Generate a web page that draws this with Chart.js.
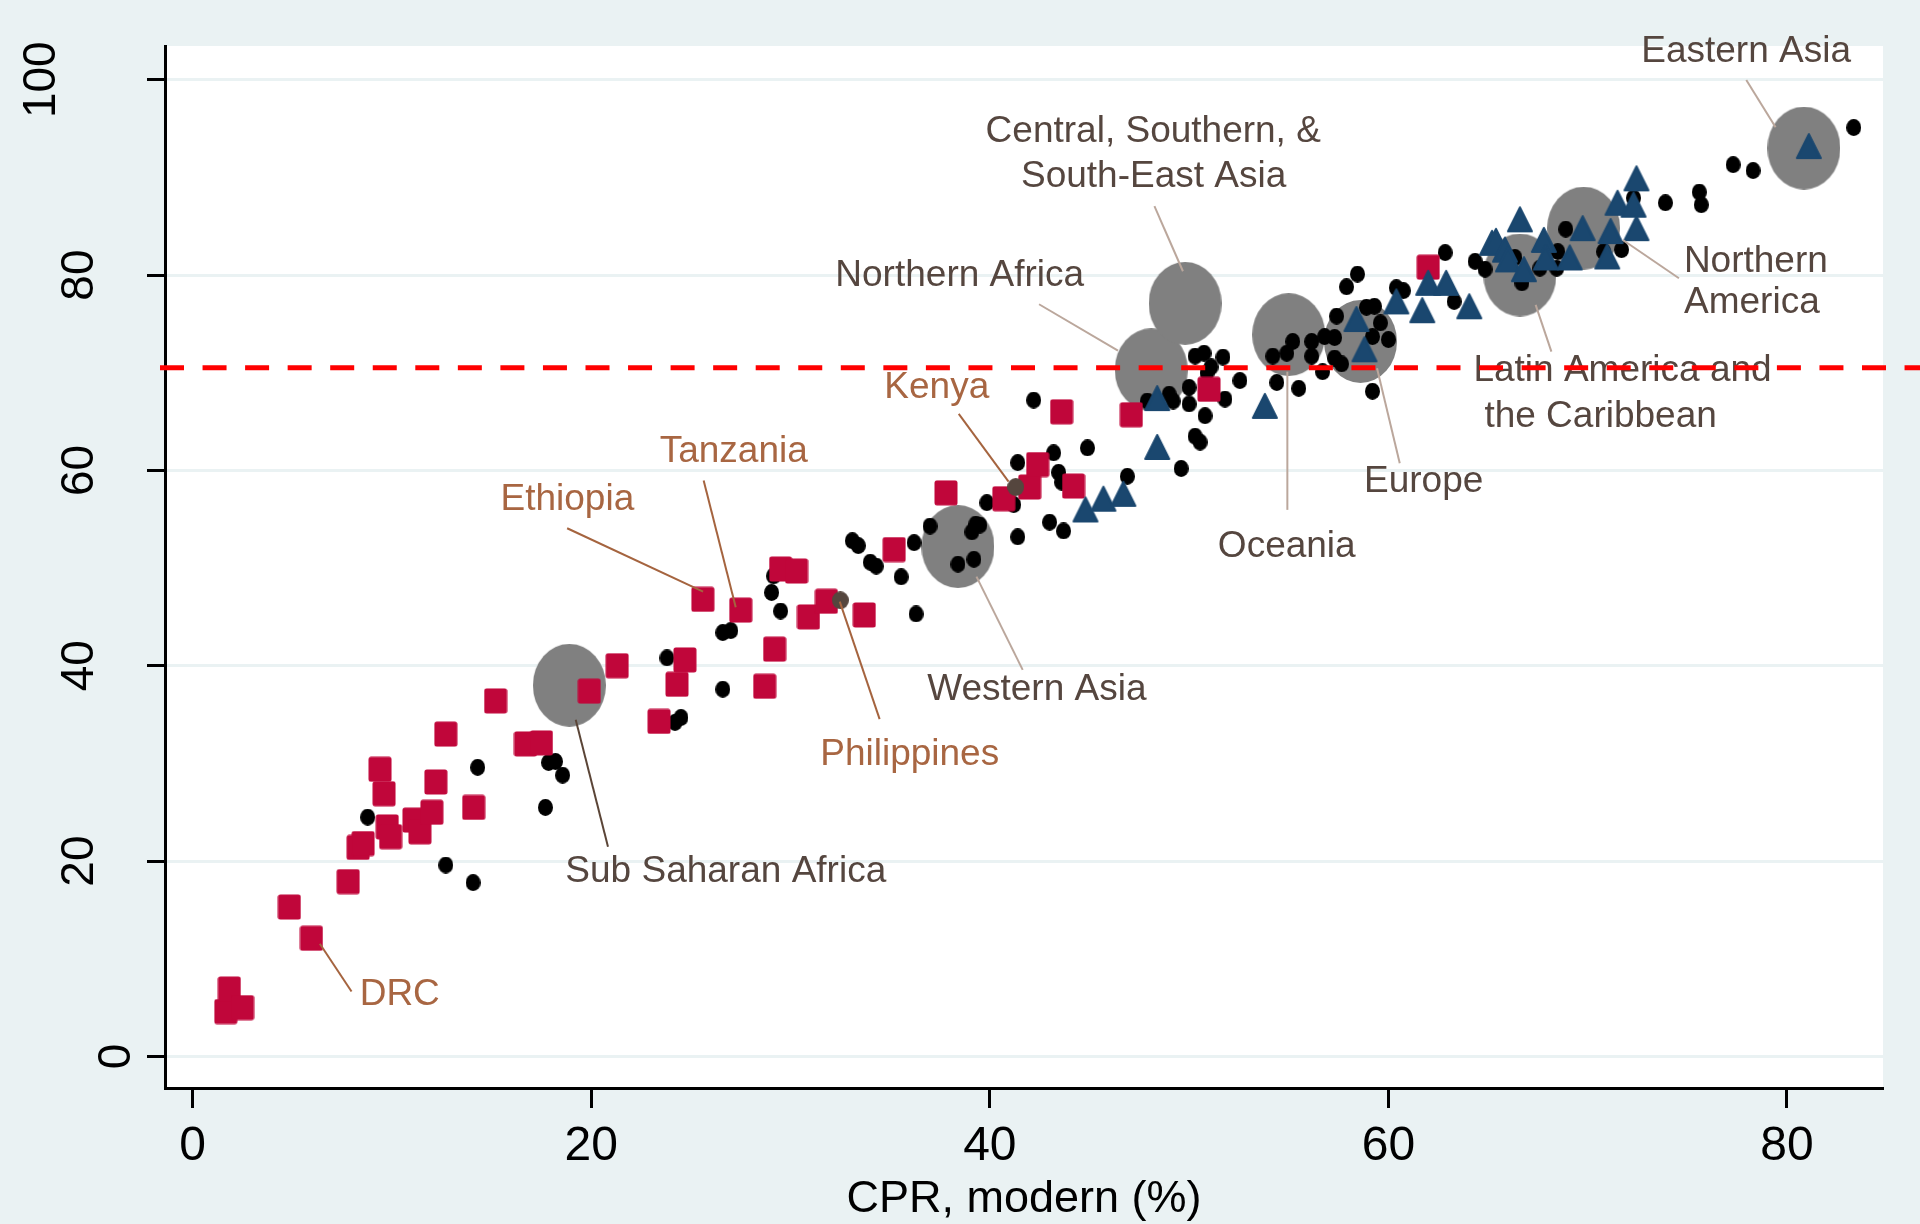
<!DOCTYPE html>
<html>
<head>
<meta charset="utf-8">
<title>Demand satisfied vs modern CPR</title>
<script src="https://cdn.jsdelivr.net/npm/chart.js@4.4.1/dist/chart.umd.min.js"></script>
<style>
    html, body { margin: 0; padding: 0; background: #eaf2f3; }
    #wrap { width: 1920px; height: 1224px; }
</style>
</head>
<body>
<div id="wrap"><canvas id="cprChart" width="1920" height="1224"></canvas></div>
<script>
// ---- data ----
const xTicks = [0, 20, 40, 60, 80];
const yTicks = [0, 20, 40, 60, 80, 100];
const targetLine = 70.5;

// sub-saharan african countries (red squares)
const africaPts = [
    [1.66, 4.6], [1.84, 6.9], [2.5, 5.0], [4.85, 15.3], [5.96, 12.1], [7.8, 17.9],
    [8.3, 21.4], [8.55, 21.8], [9.4, 29.4], [9.6, 26.9], [9.76, 23.5], [9.93, 22.5],
    [11.1, 24.2], [11.4, 23.0], [12.0, 25.0], [12.2, 28.1], [12.7, 33.0], [14.1, 25.5],
    [15.2, 36.4], [16.7, 32.0], [17.5, 32.1], [19.9, 37.4], [21.3, 40.0], [23.4, 34.3],
    [24.3, 38.1], [24.7, 40.6], [25.6, 46.8], [27.5, 45.7], [28.7, 37.9], [29.2, 41.7],
    [29.5, 49.9], [30.3, 49.7], [30.9, 45.0], [31.8, 46.6], [33.7, 45.2], [35.2, 51.9],
    [37.8, 57.7], [40.7, 57.1], [42.0, 58.3], [42.4, 60.6], [43.6, 66.0], [44.2, 58.4],
    [47.1, 65.7], [51.0, 68.3], [62.0, 80.8]
];

// other countries (black dots)
const otherPts = [
    [8.78, 24.5], [12.7, 19.6], [14.07, 17.8], [14.3, 29.6], [17.7, 25.5], [17.86, 30.1],
    [18.2, 30.2], [18.56, 28.8], [23.8, 40.8], [26.6, 37.6], [24.2, 34.2], [24.5, 34.7],
    [26.6, 43.4], [27.0, 43.6], [29.05, 47.5], [29.15, 49.2], [29.5, 45.6], [33.1, 52.8],
    [33.4, 52.3], [34.0, 50.6], [34.3, 50.2], [35.55, 49.1], [36.3, 45.3], [36.2, 52.6],
    [37.0, 54.3], [39.3, 54.5], [39.5, 54.4], [39.1, 53.7], [38.4, 50.4], [39.2, 50.9],
    [39.85, 56.7], [41.4, 60.8], [41.4, 53.2], [41.2, 56.5], [42.2, 67.2], [43.2, 61.8],
    [43.45, 59.8], [43.6, 58.8], [43.0, 54.7], [43.7, 53.8], [44.9, 62.3], [46.9, 59.4],
    [49.6, 60.2], [47.9, 67.1], [49.0, 67.8], [49.2, 67.1], [50.0, 68.5], [50.0, 66.8],
    [50.3, 71.7], [50.75, 72.0], [51.1, 70.6], [50.9, 70.0], [51.7, 71.6], [52.55, 69.2],
    [51.8, 67.3], [50.8, 65.6], [50.3, 63.5], [50.55, 62.9], [54.4, 69.0], [55.5, 68.4],
    [54.2, 71.7], [54.9, 72.0], [55.2, 73.2], [56.15, 73.2], [56.15, 71.7], [56.7, 70.1],
    [56.8, 73.7], [57.3, 73.6], [57.4, 75.8], [57.3, 71.5], [57.65, 70.9], [57.9, 78.8],
    [58.45, 80.1], [59.2, 68.1], [58.9, 76.7], [59.3, 76.8], [59.6, 75.1], [60.0, 73.4],
    [59.2, 73.7], [60.4, 78.7], [60.75, 78.4], [63.3, 77.3], [62.85, 82.3], [64.35, 81.4],
    [64.85, 80.6], [66.35, 81.8], [66.7, 79.2], [67.6, 80.7], [68.45, 80.7], [68.5, 82.4],
    [68.9, 84.7], [70.8, 82.4], [71.7, 82.6], [72.3, 87.9], [73.9, 87.4], [75.6, 88.5],
    [75.7, 87.2], [77.3, 91.3], [78.3, 90.7], [83.35, 95.1]
];

// americas / developed (blue triangles)
const trianglePts = [
    [44.8, 56.0], [45.7, 57.1], [46.7, 57.6], [48.4, 62.4], [48.4, 67.4], [53.8, 66.6],
    [58.4, 75.5], [58.8, 72.4], [60.4, 77.3], [61.7, 76.4], [62.0, 79.2], [62.9, 79.2],
    [64.06, 76.8], [65.2, 83.3], [65.4, 83.5], [65.85, 82.6], [66.0, 81.6], [66.6, 85.7],
    [66.8, 80.6], [67.8, 83.6], [67.9, 81.8], [69.1, 81.8], [69.75, 84.8], [70.98, 81.9],
    [71.15, 84.5], [71.5, 87.4], [72.3, 87.2], [72.45, 84.8], [72.45, 89.9], [81.1, 93.2]
];

// highlighted countries (Philippines, Kenya)
const highlightPts = [[32.5, 46.7], [41.3, 58.3]];

// regional averages (grey ellipses)
const regionPts = [
    [18.9, 38.0], [38.4, 52.2], [48.1, 70.3], [49.8, 77.1], [55.0, 73.9],
    [58.6, 73.2], [66.6, 80.0], [69.8, 84.8], [80.85, 93.0]
];

// ---- annotation layout (in axis units) ----
const FONT = '"Liberation Sans", Arial, Helvetica, sans-serif';
const REGION_TXT = '#55463f', COUNTRY_TXT = '#a86642';

const labels = [
    { t: 'Eastern Asia', x: 77.95, y: 101.8, c: REGION_TXT },
    { t: 'Central, Southern, &', x: 48.2, y: 93.62, c: REGION_TXT },
    { t: 'South-East Asia', x: 48.22, y: 89.02, c: REGION_TXT },
    { t: 'Northern Africa', x: 38.49, y: 78.88, c: REGION_TXT },
    { t: 'Kenya', x: 37.34, y: 67.42, c: COUNTRY_TXT },
    { t: 'Tanzania', x: 27.15, y: 60.87, c: COUNTRY_TXT },
    { t: 'Ethiopia', x: 18.8, y: 55.99, c: COUNTRY_TXT },
    { t: 'Philippines', x: 35.98, y: 29.86, c: COUNTRY_TXT },
    { t: 'Western Asia', x: 42.36, y: 36.51, c: REGION_TXT },
    { t: 'Sub Saharan Africa', x: 26.75, y: 17.88, c: REGION_TXT },
    { t: 'DRC', x: 10.39, y: 5.29, c: COUNTRY_TXT },
    { t: 'Oceania', x: 54.9, y: 51.16, c: REGION_TXT },
    { t: 'Europe', x: 61.77, y: 57.81, c: REGION_TXT },
    { t: 'Latin America and', x: 71.75, y: 69.16, c: REGION_TXT },
    { t: 'the Caribbean', x: 70.65, y: 64.45, c: REGION_TXT },
    { t: 'Northern', x: 78.44, y: 80.32, c: REGION_TXT },
    { t: 'America', x: 78.24, y: 76.12, c: REGION_TXT }
];

const LEAD_REGION = '#bba79c', LEAD_COUNTRY = '#a5643f', LEAD_SSA = '#5b4537';
const leaders = [
    [77.96, 99.97, 79.43, 95.13, LEAD_REGION],
    [48.26, 87.06, 49.69, 80.39, LEAD_REGION],
    [42.47, 77.01, 46.43, 72.26, LEAD_REGION],
    [38.44, 65.79, 40.94, 58.85, LEAD_COUNTRY],
    [25.64, 58.96, 27.25, 46.0, LEAD_COUNTRY],
    [18.79, 54.08, 25.61, 47.59, LEAD_COUNTRY],
    [32.47, 46.57, 34.47, 34.53, LEAD_COUNTRY],
    [39.33, 49.13, 41.65, 39.58, LEAD_REGION],
    [19.22, 34.46, 20.84, 21.46, LEAD_SSA],
    [6.38, 11.54, 7.97, 6.65, LEAD_COUNTRY],
    [54.93, 70.11, 54.93, 55.96, LEAD_REGION],
    [59.43, 70.46, 60.57, 60.74, LEAD_REGION],
    [67.39, 76.94, 68.18, 72.16, LEAD_REGION],
    [71.77, 83.59, 74.58, 79.67, LEAD_REGION]
];

// ---- marker images ----
function makeMarker(w, h, paint) {
    const c = document.createElement('canvas');
    c.width = w;
    c.height = h;
    paint(c.getContext('2d'), w, h);
    return c;
}

function ellipseMarker(w, h, color) {
    return makeMarker(w, h, (ctx) => {
        ctx.fillStyle = color;
        ctx.beginPath();
        ctx.ellipse(w / 2, h / 2, w / 2, h / 2, 0, 0, Math.PI * 2);
        ctx.fill();
    });
}

const squareMark = makeMarker(24, 26, (ctx) => {
    ctx.fillStyle = '#c0063a';
    ctx.beginPath();
    ctx.roundRect(0.5, 0.5, 23, 25, 2.5);
    ctx.fill();
});

const triangleMark = makeMarker(28, 28, (ctx) => {
    ctx.fillStyle = '#1a476f';
    ctx.strokeStyle = '#1a476f';
    ctx.lineWidth = 2;
    ctx.lineJoin = 'round';
    ctx.beginPath();
    ctx.moveTo(14, 2);
    ctx.lineTo(26, 26);
    ctx.lineTo(2, 26);
    ctx.closePath();
    ctx.fill();
    ctx.stroke();
});

const dotMark = ellipseMarker(15, 17, '#000000');
const highlightMark = ellipseMarker(17, 18, '#55463e');
const regionMark = ellipseMarker(73, 83, '#808080');

const toPoints = (arr) => arr.map(([x, y]) => ({ x: x, y: y }));

function scatterSet(label, pts, mark, order) {
    return {
        label: label,
        data: toPoints(pts),
        pointStyle: mark,
        pointRadius: 10,
        order: order
    };
}

// ---- backdrop, tick labels, annotations, reference line ----
const chartDecor = {
    id: 'chartDecor',
    beforeDraw(chart) {
        const { ctx, chartArea: a } = chart;
        ctx.save();
        ctx.fillStyle = '#eaf2f3';
        ctx.fillRect(0, 0, chart.width, chart.height);
        ctx.fillStyle = '#ffffff';
        ctx.fillRect(a.left, a.top, a.right - a.left, a.bottom - a.top);
        ctx.restore();
    },
    afterDraw(chart) {
        const { ctx, chartArea: a } = chart;
        const xs = chart.scales.x, ys = chart.scales.y;
        ctx.save();

        // rotated y tick labels
        ctx.fillStyle = '#000';
        ctx.font = '46px ' + FONT;
        ctx.textAlign = 'center';
        ctx.textBaseline = 'alphabetic';
        yTicks.forEach((v) => {
            const txt = String(v);
            ctx.save();
            ctx.translate(130 - 37.5 * (txt.length - 1), ys.getPixelForValue(v));
            ctx.rotate(-Math.PI / 2);
            ctx.fillText(txt, 0, 0);
            ctx.restore();
        });

        // x axis title
        ctx.font = '45px ' + FONT;
        ctx.fillText('CPR, modern (%)', (a.left + a.right) / 2, 1212);

        // leader lines
        ctx.lineWidth = 2;
        leaders.forEach(([x1, y1, x2, y2, col]) => {
            ctx.strokeStyle = col;
            ctx.beginPath();
            ctx.moveTo(xs.getPixelForValue(x1), ys.getPixelForValue(y1));
            ctx.lineTo(xs.getPixelForValue(x2), ys.getPixelForValue(y2));
            ctx.stroke();
        });

        // labels
        ctx.font = '37px ' + FONT;
        labels.forEach((l) => {
            ctx.fillStyle = l.c;
            ctx.fillText(l.t, xs.getPixelForValue(l.x), ys.getPixelForValue(l.y));
        });

        // dashed reference line, runs past the plot to the right edge
        const py = ys.getPixelForValue(targetLine);
        ctx.strokeStyle = '#ff0000';
        ctx.lineWidth = 5;
        ctx.setLineDash([24, 18.55]);
        ctx.beginPath();
        ctx.moveTo(a.left - 5, py);
        ctx.lineTo(chart.width, py);
        ctx.stroke();

        ctx.restore();
    }
};

new Chart(document.getElementById('cprChart'), {
    type: 'scatter',
    data: {
        datasets: [
            scatterSet('Highlighted', highlightPts, highlightMark, 1),
            scatterSet('Triangles', trianglePts, triangleMark, 2),
            scatterSet('Sub Saharan Africa', africaPts, squareMark, 3),
            scatterSet('Other countries', otherPts, dotMark, 4),
            scatterSet('Regions', regionPts, regionMark, 5)
        ]
    },
    options: {
        responsive: false,
        animation: false,
        events: [],
        layout: { padding: { top: 46, right: 37, left: 0, bottom: 0 } },
        plugins: {
            legend: { display: false },
            tooltip: { enabled: false }
        },
        scales: {
            x: {
                type: 'linear',
                min: -1.39,
                max: 84.82,
                afterBuildTicks: (s) => { s.ticks = xTicks.map((v) => ({ value: v })); },
                afterFit: (s) => { s.height = 136; },
                grid: {
                    drawOnChartArea: false,
                    drawTicks: true,
                    tickLength: 20,
                    tickWidth: 3,
                    tickColor: '#000',
                    color: '#000'
                },
                border: { display: true, color: '#000', width: 3 },
                ticks: {
                    color: '#000',
                    padding: 10,
                    maxRotation: 0,
                    minRotation: 0,
                    font: { family: FONT, size: 48 }
                }
            },
            y: {
                type: 'linear',
                min: -3.23,
                max: 103.45,
                afterBuildTicks: (s) => { s.ticks = yTicks.map((v) => ({ value: v })); },
                afterFit: (s) => { s.width = 165; },
                grid: {
                    color: '#eaf2f3',
                    lineWidth: 3,
                    drawTicks: true,
                    tickLength: 18,
                    tickWidth: 3,
                    tickColor: '#000'
                },
                border: { display: true, color: '#000', width: 3 },
                ticks: { display: false }
            }
        }
    },
    plugins: [chartDecor]
});
</script>
</body>
</html>
